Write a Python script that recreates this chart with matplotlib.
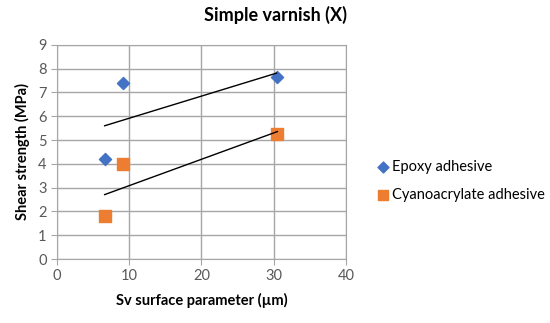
import numpy as np
import matplotlib
matplotlib.use("Agg")
import matplotlib.pyplot as plt

plt.rcParams['font.family'] = ['Lato', 'DejaVu Sans']

epoxy_x = [6.6, 9.1, 30.4]
epoxy_y = [4.2, 7.4, 7.65]
cyano_x = [6.6, 9.1, 30.5]
cyano_y = [1.8, 4.0, 5.25]

blue = '#4472C4'
orange = '#ED7D31'
grid_c = '#A6A6A6'

fig = plt.figure(figsize=(5.5, 3.23), dpi=100)
ax = fig.add_axes([0.1036, 0.198, 0.5254, 0.663])

ax.scatter(epoxy_x, epoxy_y, marker='D', s=38, color=blue, zorder=3,
           label='Epoxy adhesive')
ax.scatter(cyano_x, cyano_y, marker='s', s=75, color=orange, zorder=3,
           label='Cyanoacrylate adhesive')

# linear trend lines
for xs, ys in [(epoxy_x, epoxy_y), (cyano_x, cyano_y)]:
    k, b = np.polyfit(xs, ys, 1)
    xx = np.array([min(xs), max(xs)])
    ax.plot(xx, k * xx + b, color='black', lw=1.0, zorder=4)

ax.set_xlim(0, 40)
ax.set_ylim(0, 9)
ax.set_xticks(range(0, 41, 10))
ax.set_yticks(range(0, 10))
ax.grid(True, color=grid_c, lw=1.0)
ax.set_axisbelow(True)
for s in ax.spines.values():
    s.set_color(grid_c)
ax.tick_params(colors=grid_c, labelcolor='#595959', labelsize=10.5, length=4)

fig.text(0.5, 0.953, 'Simple varnish (X)', fontsize=13, fontweight='bold',
         ha='center', va='center')
ax.set_xlabel('Sv surface parameter (µm)', fontsize=10.5, fontweight='bold', labelpad=7)
ax.set_ylabel('Shear strength (MPa)', fontsize=10.5, fontweight='bold', labelpad=6)

fig.legend(loc='center left', bbox_to_anchor=(0.66, 0.44), frameon=False,
           fontsize=10.5, handletextpad=0.1, labelspacing=1.0, markerscale=0.9,
           handlelength=1.0)

fig.savefig('out.png', dpi=100)
